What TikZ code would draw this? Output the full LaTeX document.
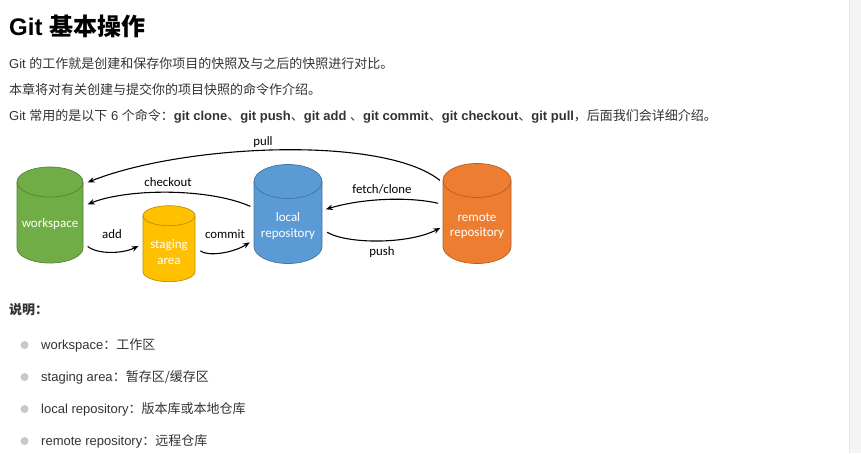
\documentclass[tikz,border=0pt]{standalone}
\usepackage{fontspec}
\setmainfont{Liberation Sans}
\newfontfamily\cjk{Noto Sans CJK SC}
\newfontfamily\diagfont{Carlito}
\usetikzlibrary{arrows.meta}

\definecolor{textgray}{HTML}{333333}
\definecolor{wsgreen}{HTML}{70AD47}
\definecolor{stageyellow}{HTML}{FFC000}
\definecolor{localblue}{HTML}{5B9BD5}
\definecolor{remoteorange}{HTML}{ED7D31}
\definecolor{bulletgray}{HTML}{C8C8C8}
\definecolor{sidegray}{HTML}{F4F4F4}
\definecolor{sideline}{HTML}{E6E6E6}

\tikzset{
  body/.style={anchor=base west, inner sep=0pt, text=textgray, font=\fontsize{13}{16}\selectfont},
  cylbox/.style={rectangle, inner sep=0pt, outer sep=0pt},
  cyllabel/.style={text=white, align=center, inner sep=0pt, font=\diagfont\fontsize{13}{15.5}\selectfont},
  flowlabel/.style={inner sep=0pt, font=\diagfont\fontsize{12.8}{15}\selectfont},
  flow/.style={line width=1.1pt, -{Stealth[length=7pt,width=5.5pt]}},
}

% name, centre x, centre y, width, height, end radius, colour
\newcommand\gitcyl[7]{%
  \filldraw[fill=#7, draw=#7!75!black, line width=0.7pt]
    (#2-#4/2, #3-#5/2+#6) -- (#2-#4/2, #3+#5/2-#6)
    arc[start angle=180, end angle=360, x radius=#4/2*1pt, y radius=#6*1pt]
    -- (#2+#4/2, #3-#5/2+#6)
    arc[start angle=0, end angle=180, x radius=#4/2*1pt, y radius=#6*1pt] -- cycle;
  \draw[draw=#7!75!black, line width=0.7pt] (#2-#4/2, #3-#5/2+#6)
    arc[start angle=180, end angle=360, x radius=#4/2*1pt, y radius=#6*1pt];
  \node[cylbox, minimum width=#4pt, minimum height=#5pt] (#1) at (#2,#3) {};
}

\begin{document}
\begin{tikzpicture}[x=1pt, y=-1pt]
        \useasboundingbox (0,0) rectangle (861,453);
        \fill[white] (0,0) rectangle (861,453);

        % Side bar
        \fill[sidegray] (849,0) rectangle (861,453);
        \draw[sideline] (849,0) -- (849,453);

        % Heading and text
        \node[body, text=black, font=\bfseries\fontsize{24}{28}\selectfont] (title) at (9,35) {Git {\cjk 基本操作}};
        \node[body] (intro) at (9,68.5) {Git {\cjk 的工作就是创建和保存你项目的快照及与之后的快照进行对比。}};
        \node[body] (chapter) at (9,94) {{\cjk 本章将对有关创建与提交你的项目快照的命令作介绍。}};
        \node[body] (cmds) at (9,120.5) {Git {\cjk 常用的是以下} 6 {\cjk 个命令：}\textbf{git clone}{\cjk 、}\textbf{git push}{\cjk 、}\textbf{git add} {\cjk 、}\textbf{git commit}{\cjk 、}\textbf{git checkout}{\cjk 、}\textbf{git pull}{\cjk ，后面我们会详细介绍。}};

        % Cylinders
        \gitcyl{ws}{50}{215}{66}{96}{15}{wsgreen}
        \gitcyl{st}{169}{243.7}{52}{76}{10}{stageyellow}
        \gitcyl{lr}{288}{214}{68}{99}{17}{localblue}
        \gitcyl{rr}{477}{213.5}{68}{100}{17}{remoteorange}

        \node[cyllabel] (wstext) at (50,224.5) {workspace};
        \node[cyllabel] (sttext) at (169,252) {staging\\area};
        \node[cyllabel] (lrtext) at (288,226) {local\\repository};
        \node[cyllabel] (rrtext) at (477,226) {remote\\repository};

        % Arrows
        \draw[flow, shorten <=4pt, shorten >=5pt] (rr.138) .. controls +(-60,-48) and +(100,-40) .. (ws.43);
        \draw[flow, shorten <=4pt, shorten >=5pt] (lr.170) .. controls +(-45,-20) and +(45,-18) .. (ws.15);
        \draw[flow, shorten <=6pt, shorten >=5pt] (ws.-40) .. controls +(15,12) and +(-20,10) .. (st.180);
        \draw[flow, shorten <=7pt, shorten >=5pt] (st.-6) .. controls +(12,10) and +(-22,14) .. (lr.217);
        \draw[flow, shorten <=5pt, shorten >=4pt] (rr.165) .. controls +(-35,-8) and +(40,-12) .. (lr.6);
        \draw[flow, shorten <=6pt, shorten >=3pt] (lr.-24) .. controls +(25,15) and +(-35,18) .. (rr.201);

        % Arrow labels
        \node[flowlabel] (pull) at (263,142.5) {pull};
        \node[flowlabel] (checkout) at (168,182) {checkout};
        \node[flowlabel] (add) at (112,234) {add};
        \node[flowlabel] (commit) at (225,234) {commit};
        \node[flowlabel] (fetch) at (382,189) {fetch/clone};
        \node[flowlabel] (push) at (382,252) {push};

        % Notes
        \node[body, font=\bfseries\fontsize{13}{16}\selectfont] (note) at (9,314) {{\cjk 说明：}};
        \foreach \txt [count=\i from 0] in {workspace{\cjk ：工作区}, staging area{\cjk ：暂存区/缓存区}, local repository{\cjk ：版本库或本地仓库}, remote repository{\cjk ：远程仓库}} {
            \fill[bulletgray] (24.5,345+32*\i) circle (4);
            \node[body] (item\i) at (41,349.5+32*\i) {\txt};
        }

    \end{tikzpicture}
\end{document}
